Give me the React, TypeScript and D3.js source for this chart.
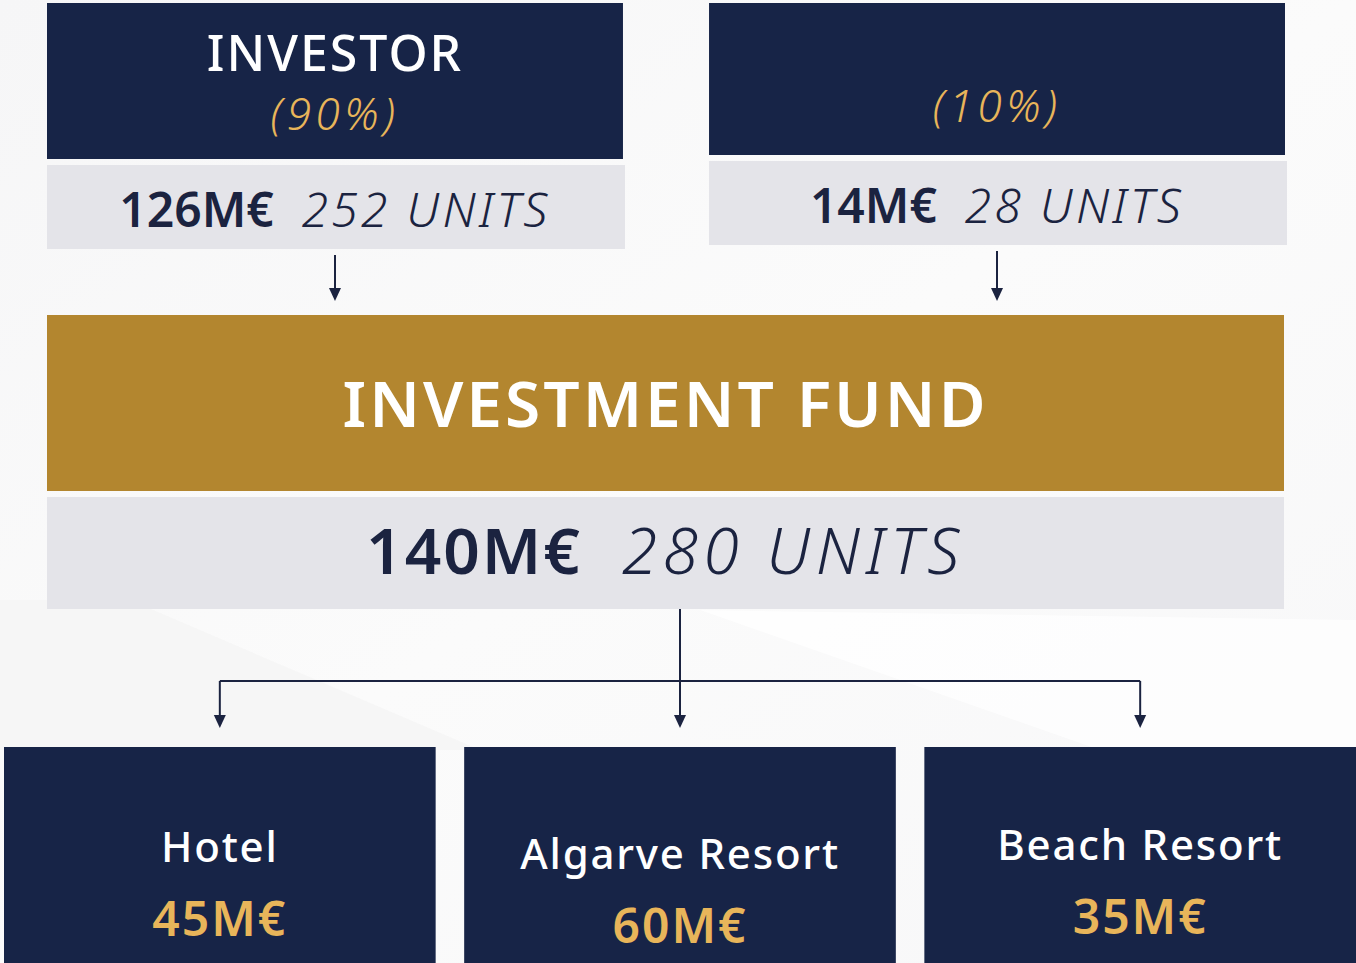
import React from 'react';
import * as d3 from 'd3';

// Shareholders feeding the fund
const holderNames = ['INVESTOR', ''];
const holderShares = ['(90%)', '(10%)'];
const holderAmounts = ['126M€', '14M€'];
const holderUnits = ['252 UNITS', '28 UNITS'];

// The fund itself
const fundName = 'INVESTMENT FUND';
const fundAmount = '140M€';
const fundUnits = '280 UNITS';

// Assets the fund invests in
const projectNames = ['Hotel', 'Algarve Resort', 'Beach Resort'];
const projectAmounts = ['45M€', '60M€', '35M€'];

const W = 1356;
const H = 963;
const NAVY = '#172447';
const GOLD_BOX = '#B3862F';
const GOLD_TEXT = '#E8B55A';
const GREY = '#E4E4E9';
const INK = '#1B2340';
const FONT = '"Noto Sans", sans-serif';

const Arrow: React.FC<{ x: number; y1: number; y2: number }> = ({ x, y1, y2 }) => (
  <g>
    <line x1={x} x2={x} y1={y1} y2={y2 - 10} stroke={INK} strokeWidth={2} />
    <path d={`M${x - 6},${y2 - 13}L${x + 6},${y2 - 13}L${x},${y2}Z`} fill={INK} />
  </g>
);

export default function App() {
  const top = d3.scaleBand<number>().domain(d3.range(holderNames.length)).range([47, 1285]).paddingInner(0.13);
  const bottom = d3.scaleBand<string>().domain(projectNames).range([4, 1356]).paddingInner(0.062);

  const fundX = 47;
  const fundW = 1237;
  const fundCx = 680;

  return (
    <svg width={W} height={H} style={{ position: 'absolute', left: 0, top: 0, fontFamily: FONT }}>
      <defs>
        <linearGradient id="bg" x1="0" y1="0" x2="1" y2="1">
          <stop offset="0" stopColor="#f6f6f7" />
          <stop offset="0.5" stopColor="#fbfbfb" />
          <stop offset="1" stopColor="#f7f7f8" />
        </linearGradient>
      </defs>
      <rect width={W} height={H} fill="url(#bg)" />
      <path d={`M0,600L130,600L480,750L0,750Z`} fill="#f3f3f4" opacity={0.6} />
      <path d={`M700,610L1356,620L1356,750L1100,750Z`} fill="#ffffff" opacity={0.7} />

      {holderNames.map((name, i) => {
        const x = top(i)!;
        const w = top.bandwidth();
        const cx = x + w / 2;
        const y0 = 3;
        const boxH = i === 0 ? 156 : 152;
        const gy = y0 + boxH + 6;
        return (
          <g key={i}>
            <rect x={x} y={y0} width={w} height={boxH} fill={NAVY} />
            {name && (
              <text x={cx} y={71} textAnchor="middle" fill="#fff" fontSize={50} fontWeight={500} letterSpacing={2}>
                {name}
              </text>
            )}
            <text x={cx} y={i === 0 ? 130 : 122} textAnchor="middle" fill={GOLD_TEXT} fontSize={44} fontStyle="italic" fontWeight={300} letterSpacing={4.5}>
              {holderShares[i]}
            </text>
            <rect x={x} y={gy} width={w + 2} height={84} fill={GREY} />
            <text x={cx} y={gy + 62} textAnchor="middle" fill={INK} fontSize={48}>
              <tspan fontWeight={600}>{holderAmounts[i]}</tspan>
              <tspan dx={28} fontStyle="italic" fontWeight={300} letterSpacing={3.2}>{holderUnits[i]}</tspan>
            </text>
            <Arrow x={cx} y1={gy + 90} y2={301} />
          </g>
        );
      })}

      <rect x={fundX} y={315} width={fundW} height={176} fill={GOLD_BOX} />
      <text x={fundX + fundW / 2} y={427} textAnchor="middle" fill="#fff" fontSize={64} fontWeight={600} letterSpacing={3}>
        {fundName}
      </text>
      <rect x={fundX} y={497} width={fundW} height={112} fill={GREY} />
      <text x={fundX + fundW / 2} y={574} textAnchor="middle" fill={INK} fontSize={64}>
        <tspan fontWeight={600} letterSpacing={2}>{fundAmount}</tspan>
        <tspan dx={40} fontStyle="italic" fontWeight={300} letterSpacing={5.5}>{fundUnits}</tspan>
      </text>

      <line x1={fundCx} x2={fundCx} y1={609} y2={681} stroke={INK} strokeWidth={2} />
      <line
        x1={bottom(projectNames[0])! + bottom.bandwidth() / 2}
        x2={bottom(projectNames[projectNames.length - 1])! + bottom.bandwidth() / 2}
        y1={681}
        y2={681}
        stroke={INK}
        strokeWidth={2}
      />

      {projectNames.map((name, i) => {
        const x = bottom(name)!;
        const w = bottom.bandwidth();
        const cx = x + w / 2;
        const dy = [0, 7, -2][i];
        return (
          <g key={name}>
            <Arrow x={cx} y1={681} y2={728} />
            <rect x={x} y={747} width={w} height={216} fill={NAVY} />
            <text x={cx} y={862 + dy} textAnchor="middle" fill="#fff" fontSize={42} fontWeight={500} letterSpacing={1.8}>
              {name}
            </text>
            <text x={cx} y={936 + dy} textAnchor="middle" fill={GOLD_TEXT} fontSize={48} fontWeight={600} letterSpacing={2}>
              {projectAmounts[i]}
            </text>
          </g>
        );
      })}
    </svg>
  );
}
